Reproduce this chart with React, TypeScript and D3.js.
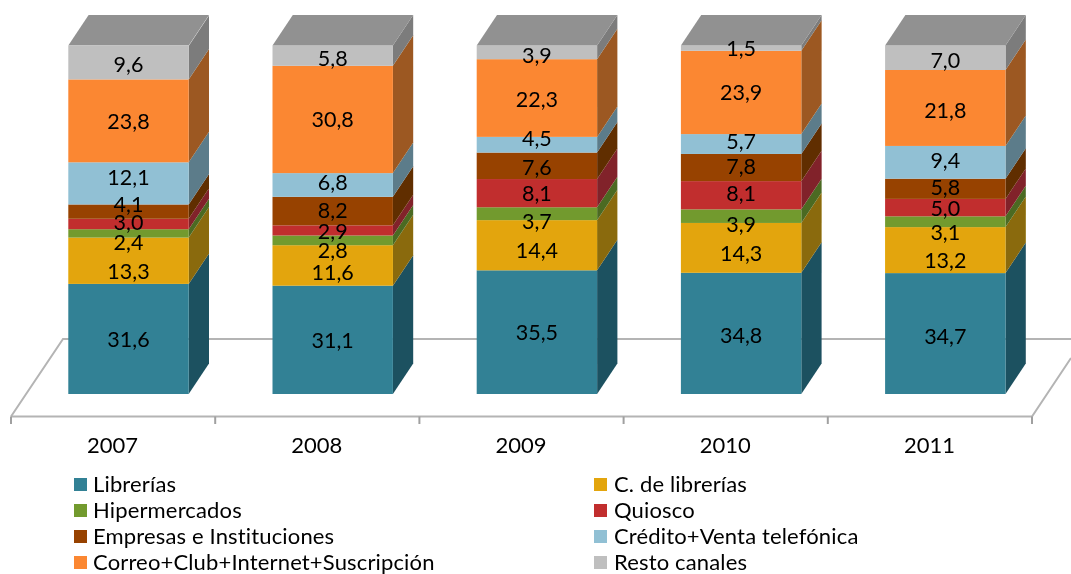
import React from "react";
import * as d3 from "d3";

const years = ["2007", "2008", "2009", "2010", "2011"];
const seriesNames = [
  "Librerías",
  "C. de librerías",
  "Hipermercados",
  "Quiosco",
  "Empresas e Instituciones",
  "Crédito+Venta telefónica",
  "Correo+Club+Internet+Suscripción",
  "Resto canales",
];
const librerias = [31.6, 31.1, 35.5, 34.8, 34.7];
const cadenas = [13.3, 11.6, 14.4, 14.3, 13.2];
const hipermercados = [2.4, 2.8, 3.7, 3.9, 3.1];
const quiosco = [3.0, 2.9, 8.1, 8.1, 5.0];
const empresas = [4.1, 8.2, 7.6, 7.8, 5.8];
const credito = [12.1, 6.8, 4.5, 5.7, 9.4];
const correo = [23.8, 30.8, 22.3, 23.9, 21.8];
const resto = [9.6, 5.8, 3.9, 1.5, 7.0];
const seriesValues = [librerias, cadenas, hipermercados, quiosco, empresas, credito, correo, resto];

const frontColors = ["#318195", "#E3A507", "#729A2D", "#C12E2E", "#974306", "#91C0D4", "#FB8732", "#BFBFBF"];
const sideColors = ["#1F5160", "#8A6A08", "#4C6B24", "#812229", "#612D04", "#5B7C8A", "#9C5920", "#7C7C7C"];

// hand-placed data label shifts in px, per year then per series
const labelNudge = [
  [0, 10, 9, -2, -8, -6, 0, 1],
  [0, 7, 10, 1, -1, -3, 0, 2],
  [0, 5, 7, 0, 1, -7, 1, 3],
  [2, 5, 8, -2, -2, -3, 0, 0],
  [2, 10, 10, 0, -2, -2, 2, 2],
];

const FONT = "Lato, 'Open Sans', sans-serif";
const DX = 20.3;
const DY = -30.5;
const BAR_W = 120.4;
const BAR_INSET = 57.3;
const FLOOR_Y = 416.5;
const BACK_Y = 339;

export default function App() {
  const x = d3.scaleBand<string>().domain(years).range([11, 1032]);
  const y = d3.scaleLinear().domain([0, 100]).range([394, 45.6]);
  const stacks = years.map((_, yi) => {
    const cum = Array.from(d3.cumsum(seriesValues.map((s) => s[yi])));
    return cum.map((c, si) => ({ si, yi, v0: c - seriesValues[si][yi], v1: c, v: seriesValues[si][yi] }));
  });
  const ticks = [...years.map((yr) => x(yr)!), 1032];
  const line = d3.line();

  return (
    <svg width={1071} height={574} style={{ position: "absolute", left: 0, top: 0, background: "#fff" }} fontFamily={FONT}>
      <defs>
        <filter id="soft" x="-5%" y="-5%" width="110%" height="110%">
          <feGaussianBlur stdDeviation="0.45" />
        </filter>
      </defs>
      <g filter="url(#soft)">
        <g stroke="#B4B4B4" strokeWidth={2} fill="none">
          <path d={line([[11, FLOOR_Y], [63, BACK_Y], [1071, BACK_Y]])!} />
          <path d={line([[11, FLOOR_Y], [1032, FLOOR_Y], [1071, 358]])!} />
          {ticks.map((t, i) => (
            <line key={i} x1={t} x2={t} y1={FLOOR_Y} y2={FLOOR_Y + 7.5} stroke="#A0A0A0" />
          ))}
        </g>
        {stacks.map((stack, yi) => {
          const x0 = x(years[yi])! + BAR_INSET;
          const x1 = x0 + BAR_W;
          const topV = stack[stack.length - 1].v1;
          return (
            <g key={yi}>
              {stack.map((d) => (
                <g key={d.si}>
                  <path
                    d={line([[x1, y(d.v0)], [x1 + DX, y(d.v0) + DY], [x1 + DX, y(d.v1) + DY], [x1, y(d.v1)]])! + "Z"}
                    fill={sideColors[d.si]}
                  />
                  <rect x={x0} y={y(d.v1)} width={BAR_W} height={y(d.v0) - y(d.v1)} fill={frontColors[d.si]} />
                </g>
              ))}
              <path
                d={line([[x0, y(100)], [x0 + DX, y(100) + DY], [x1 + DX, y(100) + DY], [x1, y(100)]])! + "Z"}
                fill="#919191"
              />
              {topV < 100 && <rect x={x0} y={y(100)} width={BAR_W} height={y(topV) - y(100)} fill={frontColors[7]} />}
            </g>
          );
        })}
        {stacks.map((stack, yi) => {
          const cx = x(years[yi])! + BAR_INSET + BAR_W / 2;
          return stack.map((d) => (
            <text
              key={`${yi}-${d.si}`}
              x={cx}
              y={(y(d.v0) + y(d.v1)) / 2 + labelNudge[yi][d.si] + 8}
              textAnchor="middle"
              fontSize={21.5}
              fill="#000"
            >
              {d.v.toFixed(1).replace(".", ",")}
            </text>
          ));
        })}
        {years.map((yr) => (
          <text key={yr} x={x(yr)! + x.bandwidth() / 2 - 0.5} y={453} textAnchor="middle" fontSize={22} fill="#000">
            {yr}
          </text>
        ))}
        {seriesNames.map((name, i) => {
          const col = i % 2;
          const row = Math.floor(i / 2);
          const ly = 478 + row * 26;
          return (
            <g key={name}>
              <rect x={col ? 594 : 74} y={ly} width={13} height={13} fill={frontColors[i]} />
              <text x={col ? 614 : 93} y={ly + 14} fontSize={22} letterSpacing={0.15} fill="#000">
                {name}
              </text>
            </g>
          );
        })}
      </g>
    </svg>
  );
}
